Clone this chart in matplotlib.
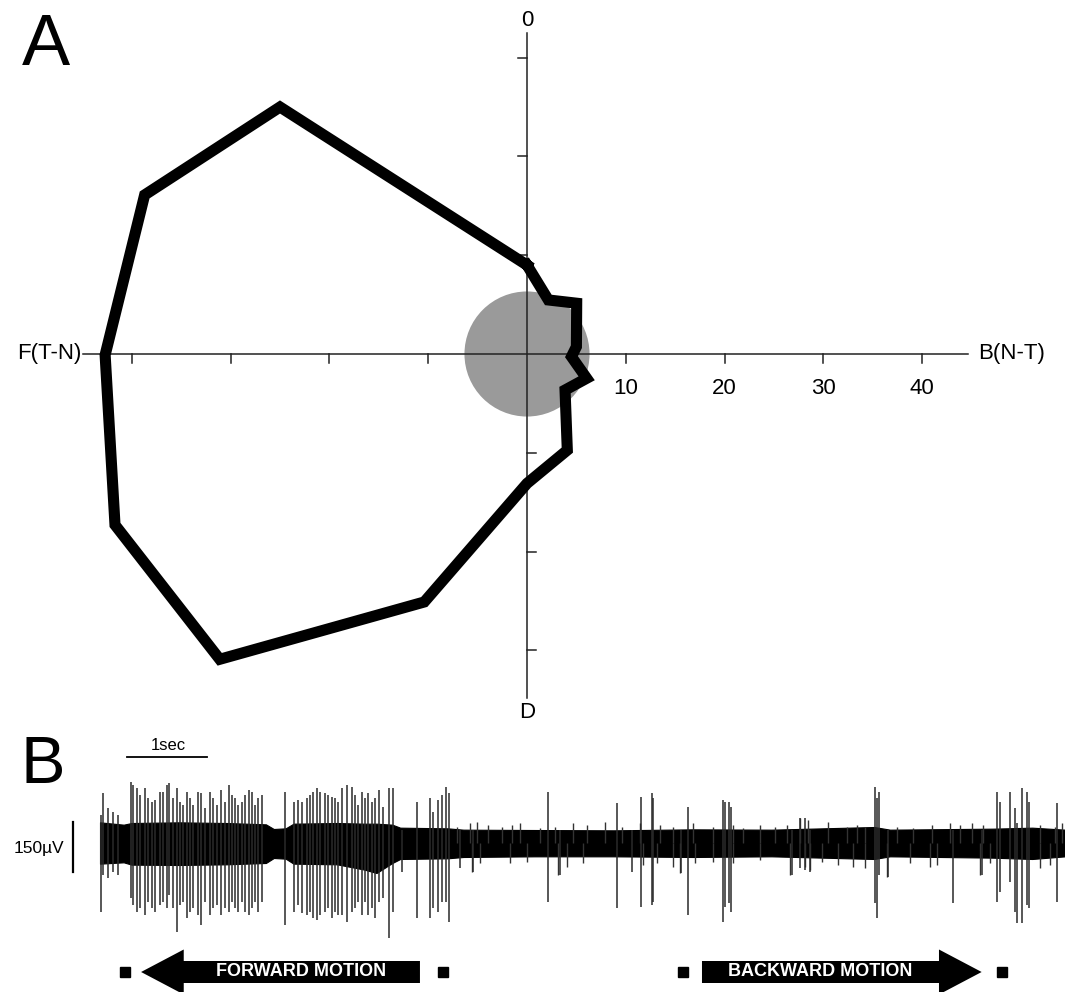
import matplotlib
matplotlib.use('Agg')
import matplotlib.pyplot as plt
from matplotlib.patches import Circle, FancyArrow

plt.rcParams['font.family'] = ['Liberation Sans', 'DejaVu Sans']

# ---- panel A: directional tuning polygon (x: F/B axis, y: vertical axis) ----
poly_x = [0.0, 2.16, 5.03, 5.0, 4.5, 6.04, 3.85, 4.08, 0.0, -10.4, -31.1, -41.7, -42.7, -38.7, -25.0, 0.0]
poly_y = [9.0, 5.47, 5.14, 0.74, -0.27, -2.46, -3.65, -9.73, -13.1, -25.1, -30.9, -17.3, -0.1, 16.1, 25.0, 9.0]
spont_radius = 6.33
x_ticks = [-40, -30, -20, -10, 10, 20, 30, 40]
x_ticklabels = [10, 20, 30, 40]
y_ticks = [30, 20, 10, -10, -20, -30]

# ---- panel B: extracellular recording (t in s, amplitudes in uV) ----
spike_t = [0.013, 0.042, 0.105, 0.169, 0.232, 0.392, 0.422, 0.464, 0.506, 0.570,
           0.612, 0.654, 0.696, 0.759, 0.802, 0.844, 0.873, 0.928, 0.970, 1.013,
           1.055, 1.097, 1.139, 1.181, 1.245, 1.278, 1.329, 1.392, 1.435, 1.477,
           1.532, 1.582, 1.633, 1.667, 1.709, 1.751, 1.793, 1.835, 1.886, 1.920,
           1.962, 2.004, 2.046, 2.342, 2.460, 2.511, 2.553, 2.616, 2.658, 2.700,
           2.743, 2.785, 2.848, 2.890, 2.932, 2.975, 3.017, 3.059, 3.131, 3.186,
           3.228, 3.270, 3.312, 3.354, 3.397, 3.439, 3.481, 3.536, 3.586, 3.662,
           3.705, 3.819, 4.008, 4.177, 4.219, 4.274, 4.325, 4.380, 4.422, 4.557,
           4.726, 5.675, 5.823, 6.540, 6.730, 6.844, 6.983, 7.004, 7.354, 7.447,
           7.890, 7.911, 7.962, 7.983, 8.755, 8.861, 8.924, 8.987, 9.810, 9.831,
           9.865, 9.979, 10.802, 11.160, 11.350, 11.392, 11.519, 11.582, 11.603, 11.667,
           11.730, 11.759, 12.110]
spike_up = [84, 149, 104, 94, 84, 184, 174, 164, 144, 164,
            134, 124, 129, 154, 154, 174, 179, 134, 164, 124,
            114, 154, 134, 114, 154, 149, 104, 154, 134, 114,
            159, 124, 174, 144, 134, 114, 124, 144, 159, 154,
            114, 134, 144, 154, 124, 129, 124, 134, 144, 154,
            164, 154, 149, 144, 139, 134, 124, 164, 174, 169,
            144, 114, 154, 134, 149, 124, 134, 159, 109, 164,
            164, 40, 124, 134, 94, 129, 144, 169, 149, 40,
            40, 154, 40, 119, 40, 139, 149, 134, 40, 109,
            129, 124, 124, 109, 40, 74, 74, 40, 169, 134,
            154, 40, 40, 40, 154, 124, 154, 104, 60, 164,
            154, 124, 119]
spike_dn = [-206, -96, -106, -86, -96, -166, -186, -206, -196, -216,
            -176, -196, -206, -186, -176, -196, -156, -196, -266, -186,
            -176, -226, -206, -196, -216, -246, -176, -216, -196, -186,
            -216, -196, -206, -176, -196, -206, -176, -206, -216, -196,
            -176, -206, -176, -246, -206, -186, -211, -216, -206, -226,
            -231, -216, -206, -196, -226, -206, -216, -216, -236, -206,
            -196, -176, -216, -176, -216, -196, -226, -176, -166, -286,
            -206, -86, -226, -226, -196, -206, -176, -176, -236, -76,
            -86, -176, -96, -196, -86, -191, -186, -176, -91, -216,
            -236, -191, -181, -206, -96, -76, -81, -86, -181, -226,
            -96, -101, -181, -96, -176, -146, -116, -206, -241, -241,
            -186, -196, -176]

# small deflections poking out of the noise band
minor_up_t = [4.515, 4.684, 4.768, 4.916, 5.085, 5.211, 5.316, 5.570, 5.759, 5.992,
              6.161, 6.392, 6.603, 6.835, 7.089, 7.257, 7.511, 7.764, 8.017, 8.143,
              8.354, 8.544, 8.692, 8.861, 8.966, 9.219, 9.451, 9.578, 9.684, 10.084,
              10.295, 10.527, 10.759, 10.886, 11.034, 11.181, 11.899, 12.089, 12.173]
minor_up = [49, 59, 64, 54, 49, 54, 59, 44, 49, 59,
            54, 64, 49, 59, 54, 49, 59, 49, 54, 44,
            54, 49, 54, 74, 69, 64, 49, 54, 49, 49,
            44, 54, 59, 54, 59, 54, 54, 49, 59]
minor_dn_t = [4.705, 4.810, 5.190, 5.401, 5.802, 5.907, 6.118, 6.878, 7.046, 7.257,
              7.342, 7.532, 7.764, 8.017, 8.354, 8.734, 8.924, 8.987, 9.135, 9.346,
              9.536, 9.684, 9.958, 10.253, 10.506, 10.591, 11.139, 11.266, 11.899, 12.025]
minor_dn = [-86, -61, -61, -56, -96, -71, -61, -66, -61, -71,
            -91, -61, -56, -61, -51, -96, -71, -81, -56, -66,
            -71, -76, -101, -61, -71, -66, -96, -61, -76, -66]

# background noise envelope
env_t = [0.0, 0.3, 0.4, 1.0, 1.6, 2.1, 2.2, 2.35, 2.45, 3.0, 3.35, 3.5, 3.7, 3.8,
         4.4, 4.6, 5.5, 6.5, 7.5, 8.5, 9.8, 10.0, 11.3, 11.8, 12.22]
env_up = [62, 55, 60, 62, 60, 56, 42, 44, 58, 60, 58, 58, 55, 46,
          44, 40, 39, 38, 41, 40, 48, 40, 43, 46, 40]
env_dn = [-62, -58, -65, -66, -64, -60, -45, -47, -62, -64, -80, -90, -60, -48,
          -46, -42, -40, -40, -42, -40, -48, -40, -44, -48, -40]

forward_period = (0.32, 4.34)
backward_period = (7.38, 11.42)

# ---------------------------------------------------------------------------
W, H = 1065, 992
fig = plt.figure(figsize=(W / 100, H / 100), dpi=100)

# panel A geometry (pixels)
cx, cy, s = 527, 354, 9.88
xl, yl = (-50, 50), (-38, 35)
axA = fig.add_axes([(cx + xl[0] * s) / W, 1 - (cy - yl[0] * s) / H,
                    (xl[1] - xl[0]) * s / W, (yl[1] - yl[0]) * s / H])
axA.set_xlim(*xl)
axA.set_ylim(*yl)
axA.axis('off')

axA.add_patch(Circle((0, 0), spont_radius, color='#9a9a9a', lw=0, zorder=1))
axA.plot([-44.9, 44.6], [0, 0], color='#222', lw=1.1, zorder=2)
axA.plot([0, 0], [-34.8, 32.5], color='#222', lw=1.1, zorder=2)
for xt in x_ticks:
    axA.plot([xt, xt], [0, -0.9], color='#222', lw=1.1, zorder=2)
for yt in y_ticks:
    xs = [-0.9, 0] if yt > 0 else [0, 0.9]
    axA.plot(xs, [yt, yt], color='#222', lw=1.1, zorder=2)
for v in x_ticklabels:
    axA.text(v, -3.5, str(v), ha='center', va='center', fontsize=16)
axA.text(-45.1, 0, 'F(T-N)', ha='right', va='center', fontsize=16)
axA.text(45.7, 0, 'B(N-T)', ha='left', va='center', fontsize=16)
axA.text(0, 33.8, '0', ha='center', va='center', fontsize=16)
axA.text(0, -36.3, 'D', ha='center', va='center', fontsize=16)
axA.plot(poly_x, poly_y, color='black', lw=8, solid_joinstyle='miter', zorder=3)

fig.text(46 / W, 1 - 65 / H, 'A', ha='center', va='baseline', fontsize=52)
fig.text(43 / W, 1 - 783 / H, 'B', ha='center', va='baseline', fontsize=48)

# panel B geometry: t=0 at px 100, 79 px per s; 0 uV at px 843, 1/3 px per uV
axB = fig.add_axes([0, 0, 1, 262 / H])
axB.set_xlim(-100 / 79, 965 / 79)
axB.set_ylim(-(992 - 843) * 3, (843 - 730) * 3)
axB.axis('off')

axB.fill_between(env_t, env_dn, env_up, color='black', lw=0.8, edgecolor='black')
axB.vlines(minor_up_t, 0, minor_up, color='#333', lw=1.0)
axB.vlines(minor_dn_t, minor_dn, 0, color='#333', lw=1.0)
axB.vlines(spike_t, spike_dn, spike_up, color='#2a2a2a', lw=1.1)

# scale bars
axB.plot([0.342, 1.354], [258, 258], color='black', lw=1.3)
axB.text(0.86, 292, '1sec', ha='center', va='center', fontsize=12)
axB.plot([-0.342, -0.342], [-87, 63], color='black', lw=1.6)
axB.text(-0.456, -15, '150\u00b5V', ha='right', va='center', fontsize=12.5)

# motion markers
for (a, b) in (forward_period, backward_period):
    axB.plot([a, b], [-387, -387], ls='none', marker='s', ms=7, color='black')

f0, f1 = forward_period
axB.add_patch(FancyArrow(f1 - 0.29, -387, -(f1 - 0.29 - (f0 + 0.2)), 0, width=66,
                         head_width=135, head_length=0.54, length_includes_head=True,
                         color='black', lw=0))
axB.text(2.55, -384, 'FORWARD MOTION', color='white', fontweight='bold',
         ha='center', va='center', fontsize=13)
b0, b1 = backward_period
axB.add_patch(FancyArrow(b0 + 0.24, -387, (b1 - 0.26) - (b0 + 0.24), 0, width=66,
                         head_width=135, head_length=0.54, length_includes_head=True,
                         color='black', lw=0))
axB.text(9.11, -384, 'BACKWARD MOTION', color='white', fontweight='bold',
         ha='center', va='center', fontsize=13)

fig.savefig('out.png', dpi=100)
